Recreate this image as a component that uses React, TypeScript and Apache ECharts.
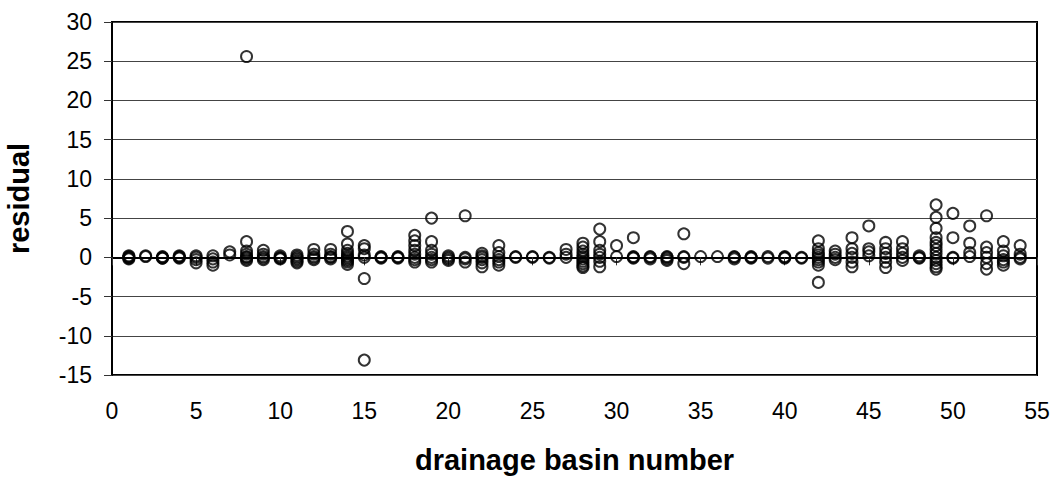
import React, { useEffect, useRef } from "react";
import * as echarts from "echarts";

// drainage basin numbers (x values)
const basins: number[] = Array.from({ length: 54 }, (_, i) => i + 1);

// residuals read per basin (index i -> basin i+1)
const residualsByBasin: number[][] = [
  [0.2, 0.1, 0, -0.1, -0.2],
  [0.2, 0.1],
  [0.1, 0, -0.1, -0.1],
  [0.2, 0.1, 0, -0.1],
  [0.2, 0, -0.3, -0.7],
  [0.2, -0.2, -0.6, -1.0],
  [0.7, 0.3],
  [25.6, 2.0, 0.8, 0.4, 0.1, 0, -0.2, -0.4],
  [0.9, 0.4, 0.1, -0.1, -0.3],
  [0.2, 0, -0.1, -0.2],
  [0.3, 0.1, -0.1, -0.3, -0.5, -0.7],
  [1.0, 0.4, 0.1, -0.1, -0.3],
  [1.0, 0.4, 0.1, 0, -0.2],
  [3.3, 1.7, 0.9, 0.5, 0.2, 0, -0.2, -0.4, -0.6, -0.9],
  [1.5, 1.1, 0.3, 0, -2.7, -13.1],
  [0.1, 0, -0.1],
  [0.1, 0, -0.1],
  [2.8, 2.1, 1.5, 0.9, 0.4, 0, -0.3, -0.6],
  [5.0, 2.0, 0.9, 0.4, 0, -0.3, -0.6],
  [0.2, 0, -0.2, -0.4],
  [5.3, 0, -0.2, -0.6],
  [0.5, 0.2, 0, -0.3, -0.7, -1.2],
  [1.5, 0.6, 0.1, -0.3, -0.6, -1.0],
  [0.1, 0],
  [0.1, 0],
  [0, -0.1],
  [1.0, 0.4, 0],
  [1.8, 1.3, 0.8, 0.4, 0.1, -0.2, -0.5, -0.8, -1.1, -1.3],
  [3.6, 2.0, 0.9, 0.4, 0, -0.5, -1.2],
  [1.5, 0.1],
  [2.5, 0.1, 0, -0.1],
  [0.1, 0, -0.2],
  [0.1, 0, -0.2, -0.4],
  [3.0, 0.1, 0, -0.8],
  [0.1],
  [0.1],
  [0.1, 0, -0.2],
  [0.1, 0, -0.1],
  [0.1, -0.1],
  [0.1, 0, -0.1],
  [0, -0.1],
  [2.1, 1.1, 0.6, 0.3, 0, -0.3, -0.6, -1.0, -3.2],
  [0.8, 0.4, 0, -0.3],
  [2.5, 1.1, 0.5, 0, -0.6, -1.2],
  [4.0, 1.1, 0.7, 0.2],
  [1.9, 1.1, 0.5, 0, -0.6, -1.3],
  [2.0, 1.1, 0.5, 0, -0.4],
  [0.2, 0, -0.1],
  [6.7, 5.1, 3.7, 2.5, 1.9, 1.5, 1.0, 0.5, 0, -0.4, -0.8, -1.2, -1.5],
  [5.6, 2.5, 0, -0.1],
  [4.0, 1.8, 0.6, 0.1],
  [5.3, 1.3, 0.6, 0, -0.8, -1.5],
  [2.0, 0.8, 0.2, -0.3, -0.6, -1.0],
  [1.5, 0.4, 0, -0.2],
];

const xTitle = "drainage basin number";
const yTitle = "residual";

const FONT = 'Arial, "Liberation Sans", sans-serif';

export default function App() {
  const ref = useRef<HTMLDivElement>(null);
  useEffect(() => {
    if (!ref.current) return;
    const chart = echarts.init(ref.current, undefined, { renderer: "svg" });
    const points: number[][] = [];
    basins.forEach((b, i) => {
      (residualsByBasin[i] || []).forEach((r) => points.push([b, r]));
    });
    chart.setOption({
      animation: false,
      backgroundColor: "#fff",
      grid: {
        left: 112,
        right: 23,
        top: 22,
        bottom: 106,
        containLabel: false,
        outerBoundsMode: "none",
        show: true,
        borderColor: "#000",
        borderWidth: 2,
      },
      xAxis: {
        type: "value",
        min: 0,
        max: 55,
        interval: 5,
        name: xTitle,
        nameLocation: "middle",
        nameGap: 70,
        nameTextStyle: { fontFamily: FONT, fontSize: 29, fontWeight: "bold", color: "#000" },
        axisLine: { show: true, lineStyle: { color: "#000", width: 2 } },
        axisTick: { show: true, length: 8, inside: false, lineStyle: { color: "#333", width: 1 } },
        axisLabel: { margin: 24, fontFamily: FONT, fontSize: 23, color: "#000" },
        splitLine: { show: false },
      },
      yAxis: {
        type: "value",
        min: -15,
        max: 30,
        interval: 5,
        name: yTitle,
        nameLocation: "middle",
        nameRotate: 90,
        nameGap: 79,
        nameTextStyle: { fontFamily: FONT, fontSize: 29, fontWeight: "bold", color: "#000" },
        axisLine: { show: true, lineStyle: { color: "#000", width: 2 } },
        axisTick: { show: true, length: 8, inside: false, lineStyle: { color: "#333", width: 1 } },
        axisLabel: { margin: 20, fontFamily: FONT, fontSize: 23, color: "#000" },
        splitLine: { show: true, lineStyle: { color: "#444", width: 1 } },
      },
      series: [
        {
          type: "scatter",
          data: points,
          symbol: "circle",
          symbolSize: 11,
          itemStyle: { color: "rgba(0,0,0,0)", borderColor: "#000", borderWidth: 2 },
        },
      ],
    });
    return () => chart.dispose();
  }, []);
  return (
    <div
      ref={ref}
      style={{ position: "fixed", left: 0, top: 0, width: 1060, height: 481 }}
    />
  );
}
